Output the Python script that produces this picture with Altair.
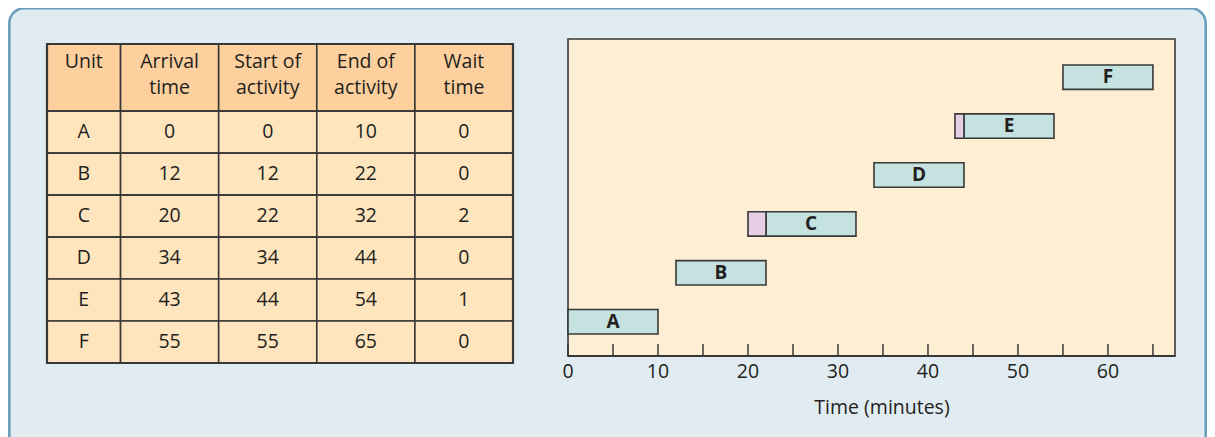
import altair as alt
import pandas as pd

# ---------------- data ----------------
units = ["A", "B", "C", "D", "E", "F"]
arrival = [0, 12, 20, 34, 43, 55]
start = [0, 12, 22, 34, 44, 55]
end = [10, 22, 32, 44, 54, 65]
wait = [0, 0, 2, 0, 1, 0]
headers = [["Unit"], ["Arrival", "time"], ["Start of", "activity"], ["End of", "activity"], ["Wait", "time"]]
tick_values = [0, 5, 10, 15, 20, 25, 30, 35, 40, 45, 50, 55, 60, 65]
label_values = [0, 10, 20, 30, 40, 50, 60]
axis_title = "Time (minutes)"

# ---------------- layout / style ----------------
W, H = 1199, 429
FONT = "Open Sans"
FS = 19.5
TXT = "#231f20"
LINE = "#383838"
PANEL_FILL = "#e1ebf2"
PANEL_STROKE = "#6a9fbb"
HEAD_FILL = "#fdd09d"
ROW_FILL = "#fee5bd"
PLOT_FILL = "#feefd4"
BAR_FILL = "#c5e2e1"
WAIT_FILL = "#e6cee4"

col_w = [0.75, 1, 1, 1, 1]
col_edges = [0]
for w in col_w:
    col_edges.append(col_edges[-1] + w)
HEAD_H = 1.6
n_rows = len(units)
tx_scale = alt.Scale(domain=[0, col_edges[-1]], range=[39, 505], nice=False, zero=False)
ty_scale = alt.Scale(domain=[0, HEAD_H + n_rows], range=[36, 355], nice=False, zero=False)

GX = (0, 67.45)
GY = (0.3, 6.78)
gx_scale = alt.Scale(domain=list(GX), range=[560, 1167], nice=False, zero=False)
gy_scale = alt.Scale(domain=list(GY), range=[348, 31], nice=False, zero=False)

# ---------------- panel ----------------
panel = alt.Chart(pd.DataFrame({"k": [0]})).mark_rect(
    fill=PANEL_FILL, stroke=PANEL_STROKE, strokeWidth=2.6, cornerRadius=15
).encode(x=alt.value(1.3), x2=alt.value(1197.7), y=alt.value(0.3), y2=alt.value(446))

# ---------------- table ----------------
cells = []
texts = []
columns = [units, arrival, start, end, wait]
for c in range(5):
    cells.append(dict(x0=col_edges[c], x1=col_edges[c + 1], y0=0, y1=HEAD_H, kind="head"))
    hl = headers[c]
    for li, t in enumerate(hl):
        texts.append(dict(x=(col_edges[c] + col_edges[c + 1]) / 2, y=0.44 + li * 0.6, t=t))
    for r in range(n_rows):
        cells.append(dict(x0=col_edges[c], x1=col_edges[c + 1], y0=HEAD_H + r, y1=HEAD_H + r + 1, kind="row"))
        texts.append(dict(x=(col_edges[c] + col_edges[c + 1]) / 2, y=HEAD_H + r + 0.5, t=str(columns[c][r])))
cells_df = pd.DataFrame(cells)
texts_df = pd.DataFrame(texts)

cell_layer = alt.Chart(cells_df).mark_rect(stroke=LINE, strokeWidth=1.6).encode(
    x=alt.X("x0:Q", scale=tx_scale, axis=None),
    x2="x1:Q",
    y=alt.Y("y0:Q", scale=ty_scale, axis=None),
    y2="y1:Q",
    fill=alt.Fill("kind:N", scale=alt.Scale(domain=["head", "row"], range=[HEAD_FILL, ROW_FILL]), legend=None),
)
outer_df = pd.DataFrame([dict(x0=0, x1=col_edges[-1], y0=0, y1=HEAD_H + n_rows)])
outer = alt.Chart(outer_df).mark_rect(fill=None, stroke=LINE, strokeWidth=2.2).encode(
    x=alt.X("x0:Q", scale=tx_scale, axis=None),
    x2="x1:Q",
    y=alt.Y("y0:Q", scale=ty_scale, axis=None),
    y2="y1:Q",
)
text_layer = alt.Chart(texts_df).mark_text(
    font=FONT, fontSize=FS, color=TXT, align="center", baseline="middle"
).encode(
    x=alt.X("x:Q", scale=tx_scale, axis=None),
    y=alt.Y("y:Q", scale=ty_scale, axis=None),
    text="t:N",
)
table = alt.layer(cell_layer, outer, text_layer)

# ---------------- gantt ----------------
idx = list(range(1, n_rows + 1))
bars_df = pd.DataFrame(dict(unit=units, s=start, e=end, a=arrival, w=wait, i=idx))
bars_df["lo"] = bars_df["i"] - 0.25
bars_df["hi"] = bars_df["i"] + 0.25
bars_df["mid"] = (bars_df["s"] + bars_df["e"]) / 2
wait_df = bars_df[bars_df["w"] > 0]

frame_df = pd.DataFrame([dict(x0=GX[0], x1=GX[1], y0=GY[0], y1=GY[1])])
frame = alt.Chart(frame_df).mark_rect(fill=PLOT_FILL, stroke=LINE, strokeWidth=1.6).encode(
    x=alt.X("x0:Q", scale=gx_scale, axis=None),
    x2="x1:Q",
    y=alt.Y("y0:Q", scale=gy_scale, axis=None),
    y2="y1:Q",
)
bottom = alt.Chart(frame_df).mark_rule(stroke=LINE, strokeWidth=2.2).encode(
    x=alt.X("x0:Q", scale=gx_scale, axis=None),
    x2="x1:Q",
    y=alt.Y("y0:Q", scale=gy_scale, axis=None),
)
bars = alt.Chart(bars_df).mark_rect(fill=BAR_FILL, stroke=LINE, strokeWidth=1.6).encode(
    x=alt.X("s:Q", scale=gx_scale, axis=None),
    x2="e:Q",
    y=alt.Y("lo:Q", scale=gy_scale, axis=None),
    y2="hi:Q",
)
waits = alt.Chart(wait_df).mark_rect(fill=WAIT_FILL, stroke=LINE, strokeWidth=1.6).encode(
    x=alt.X("a:Q", scale=gx_scale, axis=None),
    x2="s:Q",
    y=alt.Y("lo:Q", scale=gy_scale, axis=None),
    y2="hi:Q",
)
bar_text = alt.Chart(bars_df).mark_text(
    font=FONT, fontSize=19, fontWeight="bold", color=TXT, align="center", baseline="middle"
).encode(
    x=alt.X("mid:Q", scale=gx_scale, axis=None),
    y=alt.Y("i:Q", scale=gy_scale, axis=None),
    text="unit:N",
)
ticks = alt.Chart(pd.DataFrame({"v": tick_values})).mark_rule(stroke=LINE, strokeWidth=1.5).encode(
    x=alt.X("v:Q", scale=gx_scale, axis=None),
    y=alt.value(348),
    y2=alt.value(336),
)
tick_labels = alt.Chart(pd.DataFrame({"v": label_values})).mark_text(
    font=FONT, fontSize=FS, color=TXT, align="center", baseline="middle"
).encode(
    x=alt.X("v:Q", scale=gx_scale, axis=None),
    y=alt.value(364),
    text="v:Q",
)
title = alt.Chart(pd.DataFrame({"t": [axis_title]})).mark_text(
    font=FONT, fontSize=FS, color=TXT, align="center", baseline="middle"
).encode(x=alt.value(874), y=alt.value(400), text="t:N")

gantt = alt.layer(frame, bars, waits, bar_text, ticks, bottom, tick_labels, title)

chart = alt.layer(panel, table, gantt).resolve_scale(
    x="independent", y="independent", fill="independent"
).properties(
    width=W, height=H, autosize=alt.AutoSizeParams(type="none"), padding=0
).configure_view(stroke=None)

chart.save("out.html", embed_options={"renderer": "svg", "actions": False})
